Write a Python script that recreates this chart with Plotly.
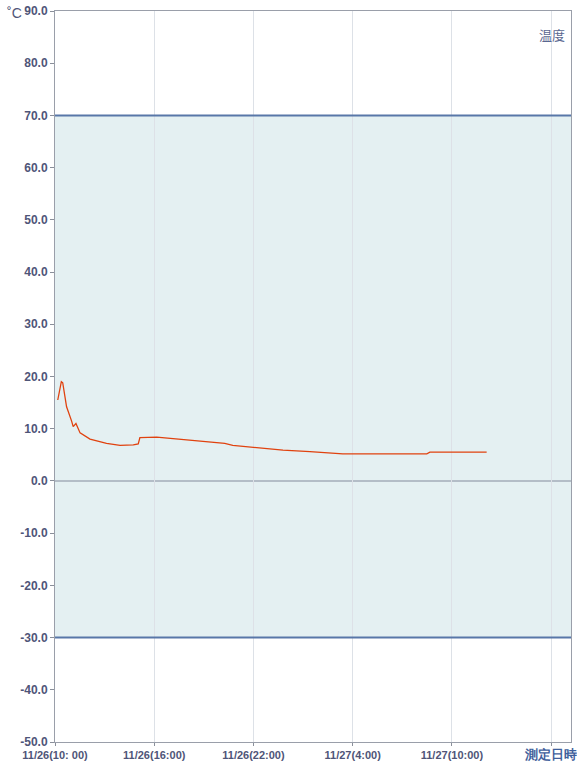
import plotly.graph_objects as go

# data
times = ["2023-11-26 10:10", "2023-11-26 10:23", "2023-11-26 10:28", "2023-11-26 10:42",
         "2023-11-26 11:00", "2023-11-26 11:06", "2023-11-26 11:16", "2023-11-26 11:31",
         "2023-11-26 12:07", "2023-11-26 13:07", "2023-11-26 13:56", "2023-11-26 14:44",
         "2023-11-26 15:02", "2023-11-26 15:08", "2023-11-26 16:09", "2023-11-26 18:10",
         "2023-11-26 20:16", "2023-11-26 20:45", "2023-11-26 21:47", "2023-11-26 23:47",
         "2023-11-27 01:25", "2023-11-27 03:24", "2023-11-27 08:29", "2023-11-27 08:40",
         "2023-11-27 12:06"]
temps = [15.5, 19.0, 18.8, 14.2, 11.5, 10.4, 11.0, 9.2,
         8.0, 7.2, 6.8, 6.9, 7.1, 8.3, 8.4, 7.85,
         7.2, 6.8, 6.45, 5.9, 5.6, 5.2, 5.2, 5.5, 5.5]

tick_vals = ["2023-11-26 10:00", "2023-11-26 16:00", "2023-11-26 22:00",
             "2023-11-27 04:00", "2023-11-27 10:00", "2023-11-27 16:00"]
tick_text = ["11/26(10: 00)", "11/26(16:00)", "11/26(22:00)",
             "11/27(4:00)", "11/27(10:00)", "測定日時"]
y_ticks = [90, 80, 70, 60, 50, 40, 30, 20, 10, 0, -10, -20, -30, -40, -50]
upper_limit = 70
lower_limit = -30

x_start = "2023-11-26 10:00"
x_end = "2023-11-27 17:12"

txt_color = "#4f5578"
font_main = "Liberation Sans, Arial, sans-serif"

# style the axis-title tick (last one) differently
tick_labels = tick_text[:-1] + [
    "<span style='font-size:12.5px;color:#3f5f9c'>" + tick_text[-1] + "</span>"]

fig = go.Figure()
fig.add_trace(go.Scatter(x=times, y=temps, mode="lines",
                         line=dict(color="#e0420f", width=1.3), showlegend=False,
                         hoverinfo="skip"))

# shaded allowed band
fig.add_shape(type="rect", xref="paper", yref="y", x0=0, x1=1,
              y0=lower_limit, y1=upper_limit, fillcolor="#e4f0f2",
              line=dict(width=0), layer="below")
fig.add_shape(type="line", xref="paper", yref="y", x0=0, x1=1,
              y0=0, y1=0, line=dict(color="#a3adb8", width=1.5), layer="below")
for v in (upper_limit, lower_limit):
    fig.add_shape(type="line", xref="paper", yref="y", x0=0, x1=1,
                  y0=v, y1=v, line=dict(color="#5877a8", width=2))

fig.add_annotation(text="˚C", xref="paper", yref="paper", x=-0.097, y=0.997,
                   xanchor="left", yanchor="middle", showarrow=False,
                   font=dict(family=font_main, size=14, color=txt_color))
fig.add_annotation(text="温度", xref="paper", yref="paper", x=0.993, y=0.983,
                   xanchor="right", yanchor="top", showarrow=False,
                   font=dict(family="Noto Sans CJK JP", size=13, color="#5a6790"))

fig.update_xaxes(range=[x_start, x_end], type="date",
                 tickvals=tick_vals, ticktext=tick_labels, automargin=False,
                 ticklabeloverflow="allow",
                 showgrid=True, gridcolor="#dde1e7", gridwidth=1,
                 ticks="outside", ticklen=3, tickcolor="#8a8f9a",
                 showline=True, linecolor="#9a9faa", linewidth=1, mirror=True,
                 tickfont=dict(family=font_main, size=11, color=txt_color, weight="bold"),
                 zeroline=False)
fig.update_yaxes(range=[-50, 90], tickvals=y_ticks, automargin=False,
                 ticktext=[f"{v:.1f}" for v in y_ticks],
                 showgrid=False, zeroline=False,
                 ticks="outside", ticklen=4, tickcolor="#8a8f9a",
                 showline=True, linecolor="#9a9faa", linewidth=1, mirror=True,
                 tickfont=dict(family=font_main, size=12, color=txt_color, weight="bold"))

fig.update_layout(width=577, height=762,
                  margin=dict(l=55, r=6, t=11, b=20, autoexpand=False),
                  plot_bgcolor="white", paper_bgcolor="white")

fig.write_html("out.html", config={"displayModeBar": False},
               post_script="document.body.style.margin='0';document.body.style.overflow='hidden';")
